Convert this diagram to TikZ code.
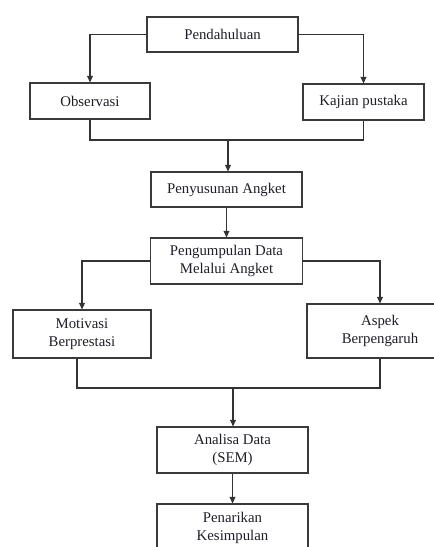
\documentclass[tikz,border=0pt]{standalone}
\usepackage{fontspec}
\setmainfont{Liberation Serif}
\usetikzlibrary{arrows.meta}
\definecolor{boxc}{HTML}{3A3A3A}
\definecolor{linec}{HTML}{333333}
\definecolor{txtc}{HTML}{1E1E28}
\begin{document}
\begin{tikzpicture}[x=1pt,y=-1pt,
  box/.style={draw=boxc,line width=1.3pt,inner sep=0pt,align=center,text=txtc,
    font=\fontsize{14.8}{18}\selectfont},
  conn/.style={draw=linec,line width=1.2pt},
  arr/.style={conn,-{Triangle[length=6.5pt,width=6pt]}}]
\useasboundingbox (0,0) rectangle (434,547);
\fill[white] (0,0) rectangle (434,547);
\clip (0,0) rectangle (434,547);

\node[box,minimum width=151pt,minimum height=35pt] (pend) at (222.5,34.5) {Pendahuluan};
\node[box,minimum width=120pt,minimum height=36pt] (obs) at (90,101) {Observasi};
\node[box,minimum width=121pt,minimum height=36pt] (kaj) at (363.5,102) {Kajian pustaka};
\node[box,minimum width=151pt,minimum height=35pt] (peny) at (226.5,189.5) {Penyusunan Angket};
\node[box,minimum width=152pt,minimum height=46pt] (peng) at (226.5,261) {Pengumpulan Data\\Melalui Angket};
\node[box,minimum width=138pt,minimum height=48pt] (mot) at (82,334) {Motivasi\\Berprestasi};
\node[box,minimum width=146pt,minimum height=54pt] (asp) at (380,331) {Aspek\\Berpengaruh};
\node[box,minimum width=151pt,minimum height=46pt] (ana) at (232.5,450) {Analisa Data\\(SEM)};
\node[box,minimum width=151pt,minimum height=47pt] (pen) at (232.5,527.5) {Penarikan\\Kesimpulan};

\coordinate (j1) at (228,140);
\coordinate (j2) at (233,388);

\draw[arr] (pend.west) -| (obs.north);
\draw[arr] (pend.east) -| (kaj.north);
\draw[conn] (obs.south) |- (j1) -| (kaj.south);
\draw[arr] (j1) -- (j1 |- peny.north);
\draw[arr] (peny.south) -- (peng.north);
\draw[arr] (peng.west) -| (mot.north);
\draw[arr] (peng.east) -| (asp.north);
\draw[conn] ([xshift=-5pt]mot.south) |- (j2) -| (asp.south);
\draw[arr] (j2) -- (j2 |- ana.north);
\draw[arr] (ana.south) -- (pen.north);
\end{tikzpicture}
\end{document}
